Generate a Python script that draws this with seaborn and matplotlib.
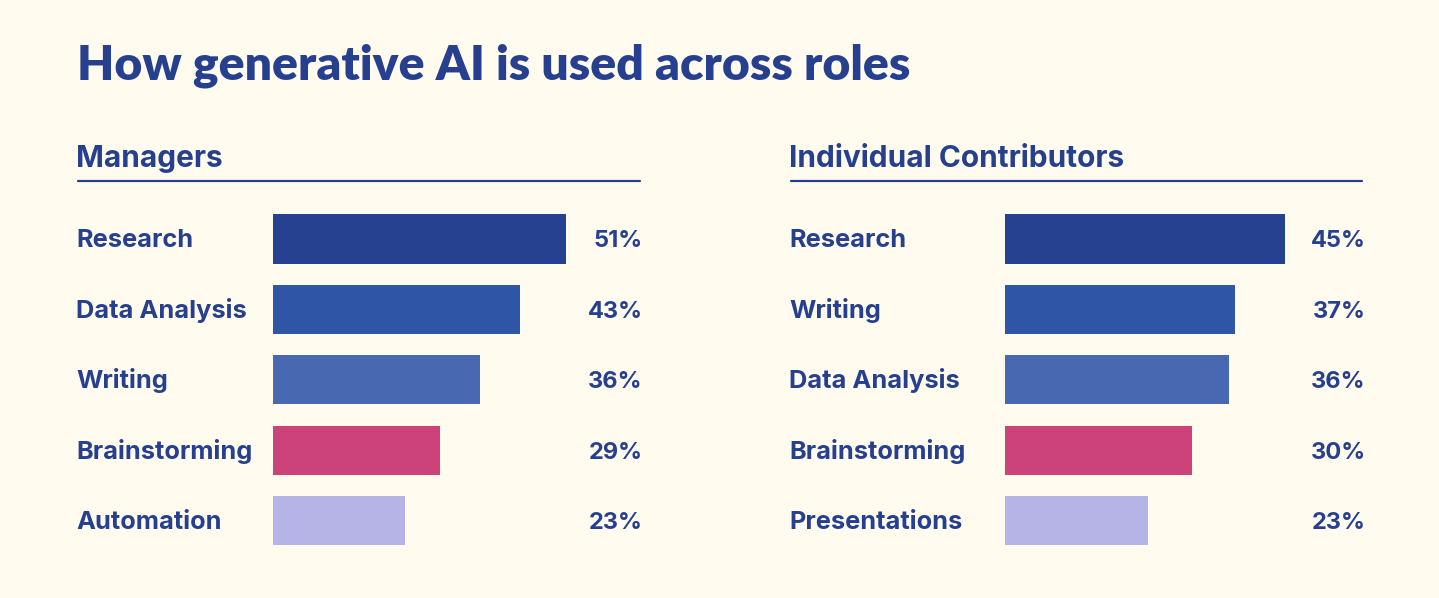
import matplotlib
matplotlib.use("Agg")
import matplotlib.pyplot as plt
import matplotlib.transforms as mtransforms
from matplotlib.lines import Line2D
import seaborn as sns

# data
mgr_tasks = ["Research", "Data Analysis", "Writing", "Brainstorming", "Automation"]
mgr_pct = [51, 43, 36, 29, 23]
ic_tasks = ["Research", "Writing", "Data Analysis", "Brainstorming", "Presentations"]
ic_pct = [45, 37, 36, 30, 23]

# colours go by rank, not by task
rank_colors = ["#26418F", "#2F55A6", "#4868B1", "#CC437A", "#B6B3E6"]
ink = "#26408F"
bg = "#FFFBEE"

sns.set_theme(style="white")
plt.rcParams['font.family'] = ['Inter', 'DejaVu Sans']

W, H = 1439, 598
fig = plt.figure(figsize=(W / 100, H / 100), dpi=100, facecolor=bg)


def fx(px):
    return px / W


def fy(py):
    return 1 - py / H


fig.text(fx(77), fy(79), "How generative AI is used across roles", fontsize=34.7,
         fontweight="heavy", color=ink, va="baseline", ha="left",
         family=["Lato", "DejaVu Sans"])

row_h = 70.4
top = 239 - row_h / 2
base_off = 8.5 / row_h  # baseline sits a little below the bar centre
nudge = mtransforms.ScaledTranslation(2.5 / 100, 0, fig.dpi_scale_trans)
panels = [
    # title, tasks, values, label x, bar x0, bar x1, px per percent, rule end
    ("Managers", mgr_tasks, mgr_pct, 76, 273, 640, 5.745, 640),
    ("Individual Contributors", ic_tasks, ic_pct, 789, 1005, 1363, 6.22, 1362),
]

for name, tasks, vals, lx, x0, x1, scale, rule_end in panels:
    ax = fig.add_axes([fx(x0), fy(top + 5 * row_h), (x1 - x0) / W, 5 * row_h / H])
    ax.set_facecolor(bg)
    sns.barplot(x=vals, y=tasks, hue=tasks, palette=rank_colors, legend=False,
                width=0.7, saturation=1, orient="h", ax=ax, linewidth=0)
    ax.set_xlim(0, (x1 - x0) / scale)
    ax.set_ylim(4.5, -0.5)
    ax.axis("off")

    lab_tr = mtransforms.blended_transform_factory(fig.transFigure, ax.transData)
    pct_tr = mtransforms.blended_transform_factory(ax.transAxes, ax.transData) + nudge
    for i, (t, v) in enumerate(zip(tasks, vals)):
        ax.text(fx(lx), i + base_off, t, transform=lab_tr, fontsize=18.3,
                fontweight="bold", color=ink, ha="left", va="baseline")
        ax.text(1.0, i + base_off, f"{v}%", transform=pct_tr, fontsize=17,
                fontweight="bold", color=ink, ha="right", va="baseline")

    fig.text(fx(lx), fy(167), name, fontsize=21.5, fontweight="bold", color=ink,
             ha="left", va="baseline")
    fig.add_artist(Line2D([fx(lx + 2), fx(rule_end)], [fy(181), fy(181)],
                          color=ink, linewidth=1.6, transform=fig.transFigure))

fig.savefig("out.png", dpi=100, facecolor=bg)
